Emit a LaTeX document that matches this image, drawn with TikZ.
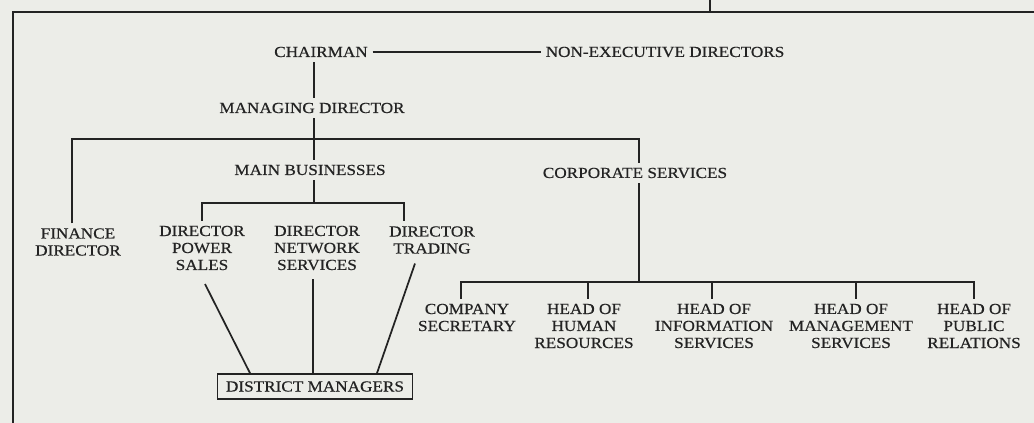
\documentclass[tikz,border=0pt]{standalone}
\usepackage{fontspec}
\setmainfont{Liberation Serif}[FakeStretch=1.12, FakeBold=0.5]
\usetikzlibrary{calc}
\definecolor{paper}{RGB}{236,237,232}
\definecolor{ink}{RGB}{35,35,35}
\tikzset{
  post/.style={inner sep=3pt, align=center, text=ink, font=\fontsize{11.5}{12.75}\selectfont},
  unitbox/.style={post, draw=ink, inner xsep=6.4pt, inner ysep=5.5pt},
}
\begin{document}
\begin{tikzpicture}[x=0.75pt, y=-0.75pt, draw=ink, line width=1.3pt]
    \useasboundingbox (0,0) rectangle (1034,423);
    \fill[paper] (0,0) rectangle (1034,423);
    \draw (13,423) -- (13,12) -- (1034,12);
    \draw (710,0) -- (710,12);
    % board and managing director
    \node[post] (chair) at (321,52) {CHAIRMAN};
    \node[post] (nonexec) at (665,52) {NON-EXECUTIVE DIRECTORS};
    \node[post] (md) at (312,108) {MANAGING DIRECTOR};
    \node[post] (mb) at (310,170) {MAIN BUSINESSES};
    \node[post] (corp) at (635,173) {CORPORATE SERVICES};
    % directors
    \node[post] (fin) at (78,242) {FINANCE\\DIRECTOR};
    \node[post] (pow) at (202,248) {DIRECTOR\\POWER\\SALES};
    \node[post] (net) at (317,248) {DIRECTOR\\NETWORK\\SERVICES};
    \node[post] (trade) at (432,240) {DIRECTOR\\TRADING};
    % corporate services heads
    \node[post] (sec) at (467,317.5) {COMPANY\\SECRETARY};
    \node[post] (hr) at (584,326) {HEAD OF\\HUMAN\\RESOURCES};
    \node[post] (info) at (714,326) {HEAD OF\\INFORMATION\\SERVICES};
    \node[post] (mgmt) at (851,326) {HEAD OF\\MANAGEMENT\\SERVICES};
    \node[post] (pr) at (974,326) {HEAD OF\\PUBLIC\\RELATIONS};
    \node[unitbox] (dm) at (315,386.5) {DISTRICT MANAGERS};
    \coordinate (spine) at (314,0);
    \coordinate (split) at (314,139);
    \coordinate (dirsplit) at (314,203);
    \coordinate (hub) at (639,282);
    \draw (chair) -- (nonexec);
    \draw (chair.south -| spine) -- (md.north -| spine);
    \draw (md.south -| spine) -- (mb.north -| spine);
    \draw ($(fin.north)+(-6,0)$) |- (split) -| ($(corp.north)+(4,0)$);
    \draw ($(corp.south)+(4,0)$) -- (hub);
    \draw (mb.south -| spine) -- (dirsplit);
    \draw (pow.north) |- (dirsplit) -| ($(trade.north)+(-28,0)$);
    \draw ($(sec.north)+(-6,0)$) |- (hub) -| (pr.north);
    \draw ($(hr.north)+(4,0)$) -- ($(hr.north |- hub)+(4,0)$);
    \draw ($(info.north)+(-2,0)$) -- ($(info.north |- hub)+(-2,0)$);
    \draw ($(mgmt.north)+(5,0)$) -- ($(mgmt.north |- hub)+(5,0)$);
    % district managers
    \draw ($(pow.south)+(3,9)$) -- ($(dm.north)+(-65,0)$);
    \draw ($(net.south)+(-4,4)$) -- ($(dm.north)+(-2,0)$);
    \draw ($(trade.south)+(-17,5)$) -- ($(dm.north)+(62,0)$);
\end{tikzpicture}
\end{document}
